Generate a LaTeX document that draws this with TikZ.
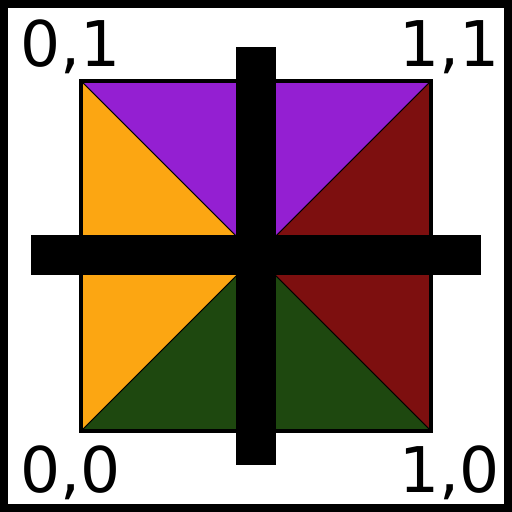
\documentclass[tikz,border=0pt]{standalone}
\usepackage{fontspec}
\setmainfont{DejaVu Sans}
\definecolor{qpurple}{HTML}{941FD2}
\definecolor{qorange}{HTML}{FCA612}
\definecolor{qred}{HTML}{7D0F0F}
\definecolor{qgreen}{HTML}{1E480F}
\tikzset{
  qtri/.style={draw=black, line width=0.8pt, line join=round},
  qbar/.style={fill=black},
  qlabel/.style={anchor=base west, inner sep=0pt,
    font=\fontsize{63}{63}\selectfont},
}
\begin{document}
\begin{tikzpicture}[x=1pt, y=-1pt]
\useasboundingbox (0,0) rectangle (512,512);

% Frame.
\fill[white] (0,0) rectangle (512,512);
\draw[line width=8pt] (4,4) rectangle (508,508);

% Unit square split into four triangles.
\coordinate (c) at (256,256);
\coordinate (tl) at (81,81);
\coordinate (tr) at (431,81);
\coordinate (br) at (431,431);
\coordinate (bl) at (81,431);
\filldraw[qtri, fill=qpurple] (tl) -- (tr) -- (c) -- cycle;
\filldraw[qtri, fill=qred] (tr) -- (br) -- (c) -- cycle;
\filldraw[qtri, fill=qgreen] (br) -- (bl) -- (c) -- cycle;
\filldraw[qtri, fill=qorange] (bl) -- (tl) -- (c) -- cycle;
\draw[line width=4pt] (tl) rectangle (br);

% The cross.
\fill[qbar] (236,47) rectangle (276,465);
\fill[qbar] (31,235) rectangle (481,275);

% Corner labels.
\node[qlabel] (l01) at (20,66) {0,1};
\node[qlabel] (l11) at (399,66) {1,1};
\node[qlabel] (l00) at (20,492) {0,0};
\node[qlabel] (l10) at (399,492) {1,0};

\end{tikzpicture}
\end{document}
